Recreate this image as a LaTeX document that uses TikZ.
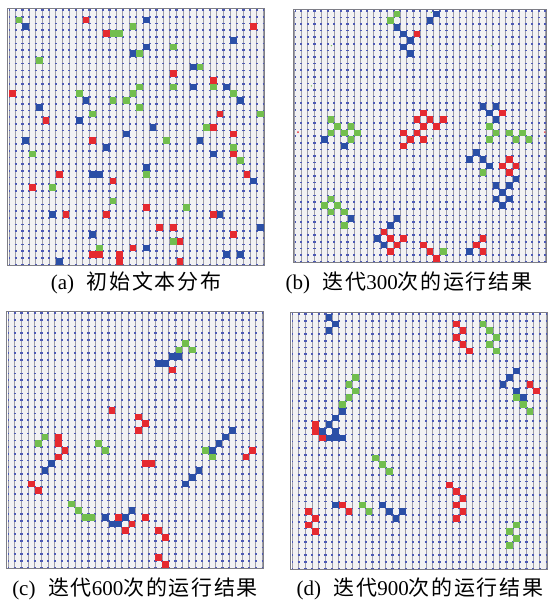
\documentclass[tikz,border=0pt]{standalone}
\usepackage{fontspec}
\setmainfont{Liberation Serif}
\newfontfamily\cjk[LetterSpace=8]{Noto Sans CJK SC}
\usetikzlibrary{positioning}
\definecolor{cellred}{HTML}{E52A30}
\definecolor{cellblue}{HTML}{2B4FA6}
\definecolor{cellgreen}{HTML}{72BE4E}
\definecolor{boardbg}{HTML}{F2F2F4}
\definecolor{boardln}{HTML}{9E9EA8}
\definecolor{boardpt}{HTML}{4B58B4}

\begin{document}
\begin{tikzpicture}[
  x=0.5pt, y=-0.5pt,
  lines/.style={draw=boardln, line width=0.45pt, step=1},
  dots/.style={draw=boardpt, line width=0.8pt, dash pattern=on 1.1pt off #1, dash phase=0.55pt},
  frame/.style={draw=boardln!80!black, line width=0.5pt},
  rcell/.style={fill=cellred},
  bcell/.style={fill=cellblue},
  gcell/.style={fill=cellgreen},
  speck/.style={fill=#1, draw=none},
  captxt/.style={font=\fontsize{10.5}{12}\selectfont, inner sep=0pt}
]
  \useasboundingbox (0,0) rectangle (548,605);

  % empty boards (origin x, origin y, cell size in pt)
  \foreach \px/\py/\s in {9/10/3.35, 294.7/10.7/3.3, 8/313/3.35, 292/314/3.35} {
    \begin{scope}[shift={(\px,\py)}, x=\s pt, y=-\s pt]
      \fill[boardbg] (0,0) rectangle (38,38);
      \draw[lines] (0,0) grid (38,38);
      \foreach \r in {0,...,38} \draw[dots=\s pt-1.1pt] (0,\r) -- (38,\r);
      \draw[frame] (-0.15,-0.15) rectangle (38.15,38.15);
    \end{scope}
  }

  % (a) start
  \begin{scope}[shift={(9,10)}, x=3.35pt, y=-3.35pt]
    \foreach \c/\r in {1/1,18/2,15/3,16/3,19/6,4/7,10/12,15/13,17/13,18/12,19/11,19/14,12/15,3/21,6/26,15/28,13/35,24/5,28/8,24/11,30/11,33/12,37/15,29/17,23/19,33/20,34/22,20/24,26/29,24/34}
      \fill[gcell] (\c,\r) rectangle ++(1,1);
    \foreach \c/\r in {2/2,18/6,11/13,4/14,10/16,17/18,2/19,14/20,12/24,13/24,6/30,12/33,7/37,20/1,33/4,20/5,27/8,27/11,32/11,34/13,21/17,28/19,30/21,20/23,36/25,31/30,37/32,20/35,32/36,34/36}
      \fill[bcell] (\c,\r) rectangle ++(1,1);
    \foreach \c/\r in {11/1,14/3,0/12,5/16,12/19,36/2,24/9,30/10,31/15,30/17,33/18,7/24,15/25,3/26,8/30,14/30,18/35,12/36,13/36,16/36,16/37,33/21,35/24,20/29,30/30,22/32,24/32,33/33,25/34,25/37}
      \fill[rcell] (\c,\r) rectangle ++(1,1);
  \end{scope}

  % (b) 300 steps
  \begin{scope}[shift={(294.7,10.7)}, x=3.3pt, y=-3.3pt]
    \foreach \c/\r in {15/0,14/1,5/16,6/17,8/17,5/18,7/18,9/18,8/19,29/17,30/18,32/18,34/18,29/19,33/19,35/19,28/24,5/28,4/29,6/29,5/30,7/30,7/32,22/36}
      \fill[gcell] (\c,\r) rectangle ++(1,1);
    \foreach \c/\r in {15/2,16/3,17/4,16/5,17/6,21/0,20/1,4/19,7/20,28/14,30/14,29/15,30/16,27/21,26/22,28/22,29/23,33/25,30/26,32/26,31/27,30/28,32/28,31/29,8/31,15/31,14/32,12/34,13/35,26/36}
      \fill[bcell] (\c,\r) rectangle ++(1,1);
    \foreach \c/\r in {18/3,19/15,18/16,20/16,22/16,19/17,21/17,16/18,18/18,17/19,19/19,16/20,31/15,32/22,31/23,33/23,32/24,13/33,14/34,16/34,15/35,14/36,19/35,20/36,21/37,28/34,27/35,28/36}
      \fill[rcell] (\c,\r) rectangle ++(1,1);
    \foreach \x/\y in {5.56/5.3,29.8/5.3,2.53/11.4,20.7/19.4,36.9/19.4,20.7/0.25}
      \fill[speck=cellgreen] (\x,\y) circle (0.35pt);
    \foreach \x/\y in {0.5/18.4,37.9/18.4}
      \fill[speck=cellred] (\x,\y) circle (0.45pt);
  \end{scope}

  % (c) 600 steps
  \begin{scope}[shift={(8,313)}, x=3.35pt, y=-3.35pt]
    \foreach \c/\r in {26/4,27/5,25/5,5/18,4/19,13/19,14/20,29/20,30/21,9/28,10/29,11/30,12/30}
      \fill[gcell] (\c,\r) rectangle ++(1,1);
    \foreach \c/\r in {22/7,23/7,24/6,25/6,6/22,5/23,32/18,33/17,31/19,30/20,28/23,27/24,26/25,14/30,15/31,16/31,17/30,18/29}
      \fill[bcell] (\c,\r) rectangle ++(1,1);
    \foreach \c/\r in {24/8,15/14,19/15,20/16,19/17,7/18,7/19,8/20,7/21,20/22,21/22,36/20,35/21,3/25,4/26,16/30,17/32,18/31,20/30,22/32,23/33,22/36,23/37}
      \fill[rcell] (\c,\r) rectangle ++(1,1);
  \end{scope}

  % (d) 900 steps
  \begin{scope}[shift={(292,314)}, x=3.35pt, y=-3.35pt]
    \foreach \c/\r in {28/1,29/2,30/3,29/4,30/5,9/9,8/10,9/11,8/12,7/13,33/12,34/13,35/14,12/21,13/22,14/23,10/28,11/29,33/31,32/32,33/33,32/34}
      \fill[gcell] (\c,\r) rectangle ++(1,1);
    \foreach \c/\r in {5/0,6/1,5/2,33/8,32/9,31/10,33/11,34/12,7/14,6/15,5/16,4/17,6/17,5/18,6/18,7/18,6/28,13/28,14/29,15/30,16/29}
      \fill[bcell] (\c,\r) rectangle ++(1,1);
    \foreach \c/\r in {24/1,25/2,24/3,25/4,26/5,35/10,36/11,3/16,3/17,4/18,2/29,3/30,2/31,3/32,7/28,8/29,23/25,24/26,25/27,24/28,25/29,24/30}
      \fill[rcell] (\c,\r) rectangle ++(1,1);
  \end{scope}

  % captions
  \node[captxt] (capA) at (136,283) {(a)\hspace{0.6em}{\cjk 初始文本分布}};
  \node[captxt] (capB) at (409,283) {(b)\hspace{0.6em}{\cjk 迭代}300{\cjk 次的运行结果}};
  \node[captxt] (capC) at (135,589) {(c)\hspace{0.6em}{\cjk 迭代}600{\cjk 次的运行结果}};
  \node[captxt] (capD) at (420,589) {(d)\hspace{0.6em}{\cjk 迭代}900{\cjk 次的运行结果}};
\end{tikzpicture}
\end{document}
